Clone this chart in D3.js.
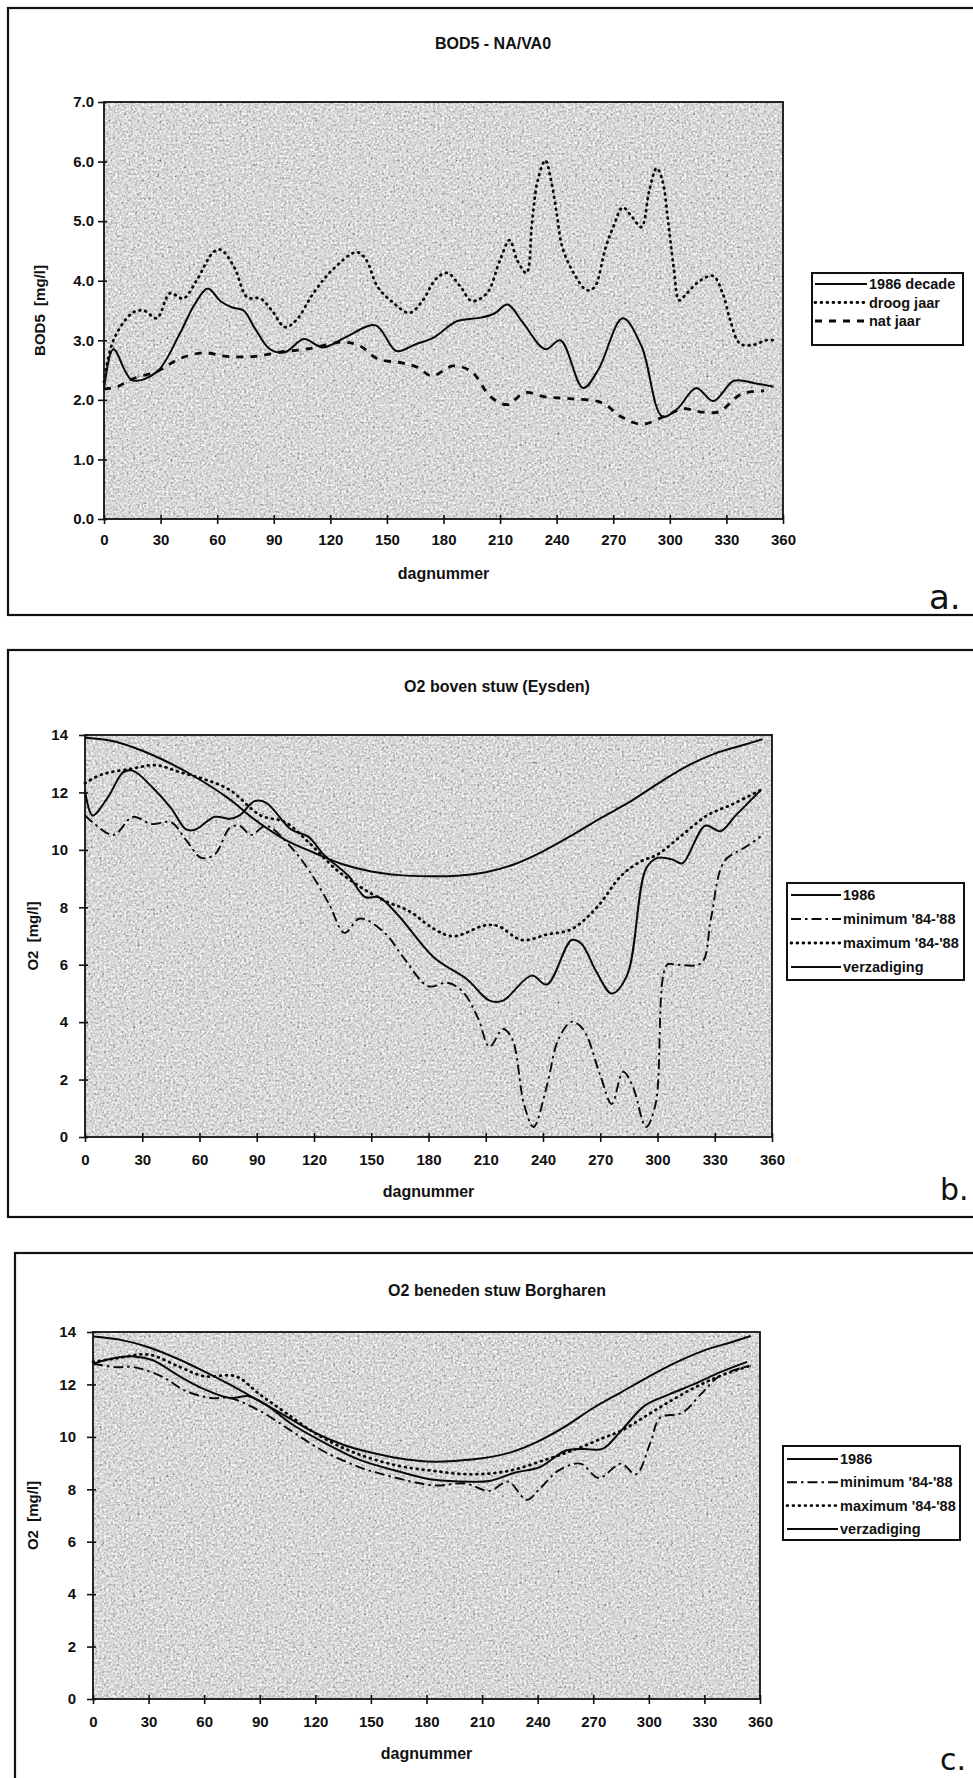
<!DOCTYPE html>
<html>
<head>
<meta charset="utf-8">
<script src="https://cdn.jsdelivr.net/npm/d3@7"></script>
<style>
  html, body { margin: 0; padding: 0; background: #fff; }
  text { font-family: "Liberation Sans", Arial, sans-serif; font-weight: bold; fill: #111; }
</style>
</head>
<body>
<svg id="chart" width="973" height="1778"></svg>
<script>
// x axis: dagnummer 0..360
var dayTicks = [0, 30, 60, 90, 120, 150, 180, 210, 240, 270, 300, 330, 360];

// ---- panel a: BOD5 - NA/VA0 ----
var bodTicks = [0, 1, 2, 3, 4, 5, 6, 7];
var bodDecade = [[0,2.18],[5,2.85],[15,2.33],[28,2.47],[40,3.1],[48,3.6],[55,3.87],[62,3.65],[68,3.55],[74,3.5],[80,3.2],[88,2.85],[96,2.8],[106,3.02],[116,2.88],[128,3.05],[144,3.25],[155,2.82],[165,2.93],[175,3.05],[187,3.32],[200,3.38],[207,3.45],[214,3.6],[222,3.3],[234,2.85],[242,3.0],[254,2.2],[262,2.5],[275,3.37],[285,2.9],[296,1.72],[304,1.85],[314,2.2],[323,1.98],[334,2.32],[345,2.28],[355,2.22]];
var bodDroog = [[0,2.3],[5,3.0],[15,3.46],[21,3.5],[28,3.37],[35,3.79],[42,3.7],[49,4.0],[58,4.48],[62,4.52],[69,4.23],[76,3.72],[83,3.7],[89,3.5],[96,3.22],[102,3.34],[111,3.79],[121,4.18],[134,4.48],[139,4.35],[145,3.9],[153,3.64],[162,3.46],[169,3.67],[176,4.03],[182,4.13],[189,3.9],[195,3.66],[203,3.79],[210,4.35],[215,4.68],[219,4.35],[224,4.13],[227,5.0],[230,5.69],[234,6.02],[237,5.69],[240,5.13],[243,4.56],[249,4.13],[256,3.84],[260,3.89],[266,4.56],[270,4.9],[275,5.23],[280,5.07],[285,4.9],[289,5.5],[293,5.89],[296,5.69],[299,5.02],[302,4.23],[305,3.67],[309,3.79],[316,4.0],[323,4.08],[328,3.79],[332,3.34],[337,2.95],[344,2.92],[351,3.0],[355,3.0]];
var bodNat = [[0,2.18],[7,2.22],[15,2.35],[29,2.49],[40,2.69],[53,2.79],[65,2.73],[80,2.73],[93,2.8],[109,2.86],[127,2.97],[136,2.9],[145,2.69],[158,2.62],[166,2.55],[174,2.4],[185,2.57],[195,2.47],[205,2.05],[214,1.92],[223,2.12],[234,2.05],[247,2.02],[264,1.95],[274,1.72],[285,1.59],[297,1.72],[307,1.85],[316,1.8],[326,1.8],[338,2.1],[350,2.15]];

// ---- panel b: O2 boven stuw (Eysden) ----
var o2Ticks = [0, 2, 4, 6, 8, 10, 12, 14];
var eysden1986 = [[0,12.07],[4,11.2],[12,11.83],[20,12.7],[25,12.76],[35,12.2],[45,11.46],[53,10.71],[58,10.71],[68,11.15],[76,11.08],[81,11.2],[89,11.7],[95,11.64],[108,10.71],[117,10.46],[125,9.84],[138,9.1],[147,8.35],[154,8.35],[164,7.73],[183,6.24],[200,5.5],[212,4.75],[219,4.75],[234,5.62],[242,5.31],[255,6.86],[260,6.74],[268,5.75],[276,5.0],[284,5.62],[294,9.35],[300,9.72],[308,9.66],[313,9.53],[325,10.84],[333,10.65],[341,11.2],[354,12.07]];
var eysdenMin = [[0,11.2],[4,10.96],[15,10.52],[25,11.15],[35,10.9],[45,10.96],[53,10.34],[61,9.72],[68,9.84],[76,10.77],[81,10.84],[87,10.52],[95,10.84],[108,10.09],[118,9.22],[128,8.1],[136,7.11],[144,7.61],[157,7.11],[167,6.24],[180,5.25],[190,5.37],[198,5.06],[206,4.13],[212,3.14],[219,3.76],[224,3.39],[230,1.15],[235,0.35],[242,1.77],[248,3.39],[255,4.01],[261,3.76],[270,2.15],[276,1.15],[282,2.27],[287,1.77],[294,0.35],[299,1.15],[305,6.0],[310,6.0],[323,6.06],[328,7.61],[335,9.6],[346,10.09],[354,10.46]];
var eysdenMax = [[0,12.32],[9,12.63],[24,12.82],[37,12.95],[50,12.7],[63,12.45],[76,12.08],[92,11.2],[105,10.96],[118,10.21],[131,9.35],[144,8.72],[157,8.23],[170,7.86],[183,7.24],[193,6.99],[209,7.36],[216,7.36],[229,6.86],[242,7.05],[255,7.24],[268,7.98],[281,9.1],[291,9.59],[300,9.84],[313,10.52],[326,11.2],[339,11.58],[354,12.08]];
var eysdenVerz = [[0,13.9],[15,13.78],[30,13.45],[45,13.0],[60,12.45],[75,11.8],[90,11.0],[105,10.35],[120,9.9],[135,9.5],[150,9.25],[165,9.12],[180,9.08],[195,9.1],[210,9.22],[225,9.5],[240,9.95],[255,10.5],[270,11.1],[285,11.65],[300,12.3],[315,12.9],[330,13.35],[345,13.65],[355,13.85]];

// ---- panel c: O2 beneden stuw Borgharen ----
var borg1986 = [[0,12.79],[10,12.98],[22,13.07],[32,12.93],[47,12.3],[60,11.82],[74,11.48],[84,11.55],[94,11.2],[107,10.5],[124,9.81],[144,9.12],[164,8.7],[184,8.36],[204,8.29],[214,8.32],[228,8.64],[241,8.84],[255,9.47],[265,9.54],[275,9.54],[285,10.23],[298,11.2],[311,11.62],[325,12.03],[338,12.45],[353,12.86]];
var borgMin = [[0,12.79],[12,12.66],[22,12.66],[37,12.31],[50,11.75],[64,11.48],[74,11.48],[90,10.99],[107,10.23],[124,9.47],[144,8.84],[164,8.43],[184,8.15],[201,8.22],[214,7.94],[224,8.29],[234,7.6],[241,8.01],[251,8.7],[263,8.98],[273,8.43],[285,8.98],[293,8.57],[301,9.81],[306,10.72],[318,10.92],[328,11.62],[338,12.31],[355,12.72]];
var borgMax = [[0,12.86],[13,13.0],[30,13.14],[47,12.66],[60,12.31],[77,12.31],[90,11.62],[104,10.92],[121,10.09],[141,9.4],[164,8.91],[184,8.7],[204,8.57],[224,8.7],[244,9.12],[261,9.54],[275,9.95],[285,10.23],[298,10.78],[311,11.34],[325,11.89],[338,12.31],[355,12.72]];
var borgVerz = [[0,13.83],[15,13.7],[30,13.42],[45,13.0],[60,12.5],[75,11.95],[90,11.35],[105,10.75],[120,10.15],[135,9.7],[150,9.4],[165,9.18],[180,9.06],[195,9.08],[210,9.18],[225,9.4],[240,9.82],[255,10.4],[270,11.1],[285,11.7],[300,12.3],[315,12.85],[330,13.3],[345,13.62],[355,13.85]];

var labelsA = ["1986 decade", "droog jaar", "nat jaar"];
var labelsBC = ["1986", "minimum '84-'88", "maximum '84-'88", "verzadiging"];

// line styles
var STY = {
  solid:   {dash: null,        w: 2,   cap: "butt"},
  dotted:  {dash: "0.8,5.2",   w: 2.8, cap: "round"},
  dashed:  {dash: "7,7",       w: 2.8, cap: "butt"},
  dashdot: {dash: "10,4,2.5,4", w: 1.9, cap: "butt"}
};

var panels = [
  {frame: [8, 8, 1000, 607], title: "BOD5 - NA/VA0", titleX: 493, titleY: 49,
   plot: {l: 104, r: 783, t: 102, b: 519}, yMax: 7, yTicks: bodTicks, fmt: d3.format(".1f"),
   xPad: 10, yPad: 4, yLabel: "BOD5  [mg/l]", yLabelX: 40,
   series: [{d: bodDecade, s: "solid"}, {d: bodDroog, s: "dotted"}, {d: bodNat, s: "dashed"}],
   labels: labelsA, legend: {x: 812, y: 273, w: 151, h: 72, row0: 284, rowH: 18.5, lx0: 815, lx1: 867, tx: 869},
   tag: "a.", tagX: 929, tagY: 609, tagSize: 34},
  {frame: [8, 650, 1000, 567], title: "O2 boven stuw (Eysden)", titleX: 497, titleY: 692,
   plot: {l: 85, r: 772, t: 735, b: 1137}, yMax: 14, yTicks: o2Ticks, fmt: d3.format("d"),
   xPad: 12, yPad: 11, yLabel: "O2  [mg/l]", yLabelX: 33,
   series: [{d: eysden1986, s: "solid"}, {d: eysdenMin, s: "dashdot"}, {d: eysdenMax, s: "dotted"}, {d: eysdenVerz, s: "solid"}],
   labels: labelsBC, legend: {x: 787, y: 883, w: 177, h: 97, row0: 895, rowH: 24, lx0: 791, lx1: 841, tx: 843},
   tag: "b.", tagX: 940, tagY: 1200, tagSize: 30},
  {frame: [15, 1253, 1000, 540], title: "O2 beneden stuw Borgharen", titleX: 497, titleY: 1296,
   plot: {l: 93, r: 760, t: 1332, b: 1699}, yMax: 14, yTicks: o2Ticks, fmt: d3.format("d"),
   xPad: 12, yPad: 11, yLabel: "O2  [mg/l]", yLabelX: 33,
   series: [{d: borg1986, s: "solid"}, {d: borgMin, s: "dashdot"}, {d: borgMax, s: "dotted"}, {d: borgVerz, s: "solid"}],
   labels: labelsBC, legend: {x: 783, y: 1446, w: 177, h: 94, row0: 1459, rowH: 23.3, lx0: 787, lx1: 838, tx: 840},
   tag: "c.", tagX: 940, tagY: 1770, tagSize: 30}
];

var svg = d3.select("#chart");
svg.append("rect").attr("width", 973).attr("height", 1778).attr("fill", "#fff");

// speckled grey like the photocopied plot area
var defs = svg.append("defs");
var grain = defs.append("filter").attr("id", "grain")
    .attr("x", 0).attr("y", 0).attr("width", 1).attr("height", 1);
grain.append("feTurbulence").attr("type", "fractalNoise")
    .attr("baseFrequency", 0.45).attr("numOctaves", 3).attr("seed", 7).attr("result", "n");
grain.append("feColorMatrix").attr("in", "n").attr("type", "matrix")
    .attr("values", "0.6 0.6 0.6 0 -0.22  0.6 0.6 0.6 0 -0.22  0.6 0.6 0.6 0 -0.22  0 0 0 0 1")
    .attr("result", "g");
grain.append("feComposite").attr("in", "g").attr("in2", "SourceGraphic").attr("operator", "in");

panels.forEach(function(P){

    var g = svg.append("g");
    var p = P.plot;

    // outer frame (right side runs off the page)
    g.append("rect")
	.attr("x", P.frame[0]).attr("y", P.frame[1])
	.attr("width", P.frame[2]).attr("height", P.frame[3])
	.attr("fill", "none").attr("stroke", "#111").attr("stroke-width", 2.2);

    g.append("text").attr("x", P.titleX).attr("y", P.titleY)
	.attr("text-anchor", "middle").style("font-size", "16px").text(P.title);

    var x = d3.scaleLinear().domain([0, 360]).range([p.l, p.r]);
    var y = d3.scaleLinear().domain([0, P.yMax]).range([p.b, p.t]);

    // plot area
    g.append("rect")
	.attr("x", p.l).attr("y", p.t).attr("width", p.r - p.l).attr("height", p.b - p.t)
	.attr("fill", "#b0b0b0").attr("filter", "url(#grain)");

    // series
    var line = d3.line()
	.x(function(d){ return x(d[0]); })
	.y(function(d){ return y(d[1]); })
	.curve(d3.curveCatmullRom.alpha(0.5));

    P.series.forEach(function(S){
	var st = STY[S.s];
	g.append("path").datum(S.d)
	    .attr("d", line)
	    .attr("fill", "none")
	    .attr("stroke", "#0a0a0a")
	    .attr("stroke-width", st.w)
	    .attr("stroke-dasharray", st.dash)
	    .attr("stroke-linecap", st.cap);
    });

    // plot border
    g.append("rect")
	.attr("x", p.l).attr("y", p.t).attr("width", p.r - p.l).attr("height", p.b - p.t)
	.attr("fill", "none").attr("stroke", "#111").attr("stroke-width", 1.8);

    // axes
    var ax = g.append("g").attr("transform", "translate(0," + p.b + ")")
	.call(d3.axisBottom(x).tickValues(dayTicks).tickSize(5).tickPadding(P.xPad));
    var ay = g.append("g").attr("transform", "translate(" + p.l + ",0)")
	.call(d3.axisLeft(y).tickValues(P.yTicks).tickFormat(P.fmt).tickSize(6).tickPadding(P.yPad));
    [ax, ay].forEach(function(a){
	a.select(".domain").remove();
	a.selectAll("line").attr("stroke", "#111").attr("stroke-width", 1.6);
	a.selectAll("text").style("font-size", "15px").attr("fill", "#111")
	    .style("font-family", "'Liberation Sans', Arial, sans-serif").style("font-weight", "bold");
    });
    // ticks cross the axis slightly
    ax.selectAll(".tick line").attr("y1", -4);
    ay.selectAll(".tick line").attr("x1", 3);

    g.append("text").attr("x", (p.l + p.r) / 2).attr("y", p.b + 60)
	.attr("text-anchor", "middle").style("font-size", "16px").text("dagnummer");

    g.append("text")
	.attr("transform", "translate(" + P.yLabelX + "," + ((p.t + p.b) / 2) + ") rotate(-90)")
	.attr("dy", "0.35em").attr("text-anchor", "middle").style("font-size", "15px")
	.style("white-space", "pre").text(P.yLabel);

    // legend
    var L = P.legend;
    g.append("rect").attr("x", L.x).attr("y", L.y).attr("width", L.w).attr("height", L.h)
	.attr("fill", "#fff").attr("stroke", "#111").attr("stroke-width", 2);
    P.labels.forEach(function(lab, i){
	var st = STY[P.series[i].s];
	var ly = L.row0 + i * L.rowH;
	g.append("line").attr("x1", L.lx0).attr("x2", L.lx1).attr("y1", ly).attr("y2", ly)
	    .attr("stroke", "#0a0a0a").attr("stroke-width", st.w)
	    .attr("stroke-dasharray", st.dash).attr("stroke-linecap", st.cap);
	g.append("text").attr("x", L.tx).attr("y", ly).attr("dy", "0.35em")
	    .style("font-size", "14.5px").style("white-space", "pre").text(lab);
    });

    g.append("text").attr("x", P.tagX).attr("y", P.tagY)
	.style("font-family", "'DejaVu Sans', sans-serif").style("font-weight", "normal")
	.style("font-size", P.tagSize + "px").text(P.tag);
});
</script>
</body>
</html>
